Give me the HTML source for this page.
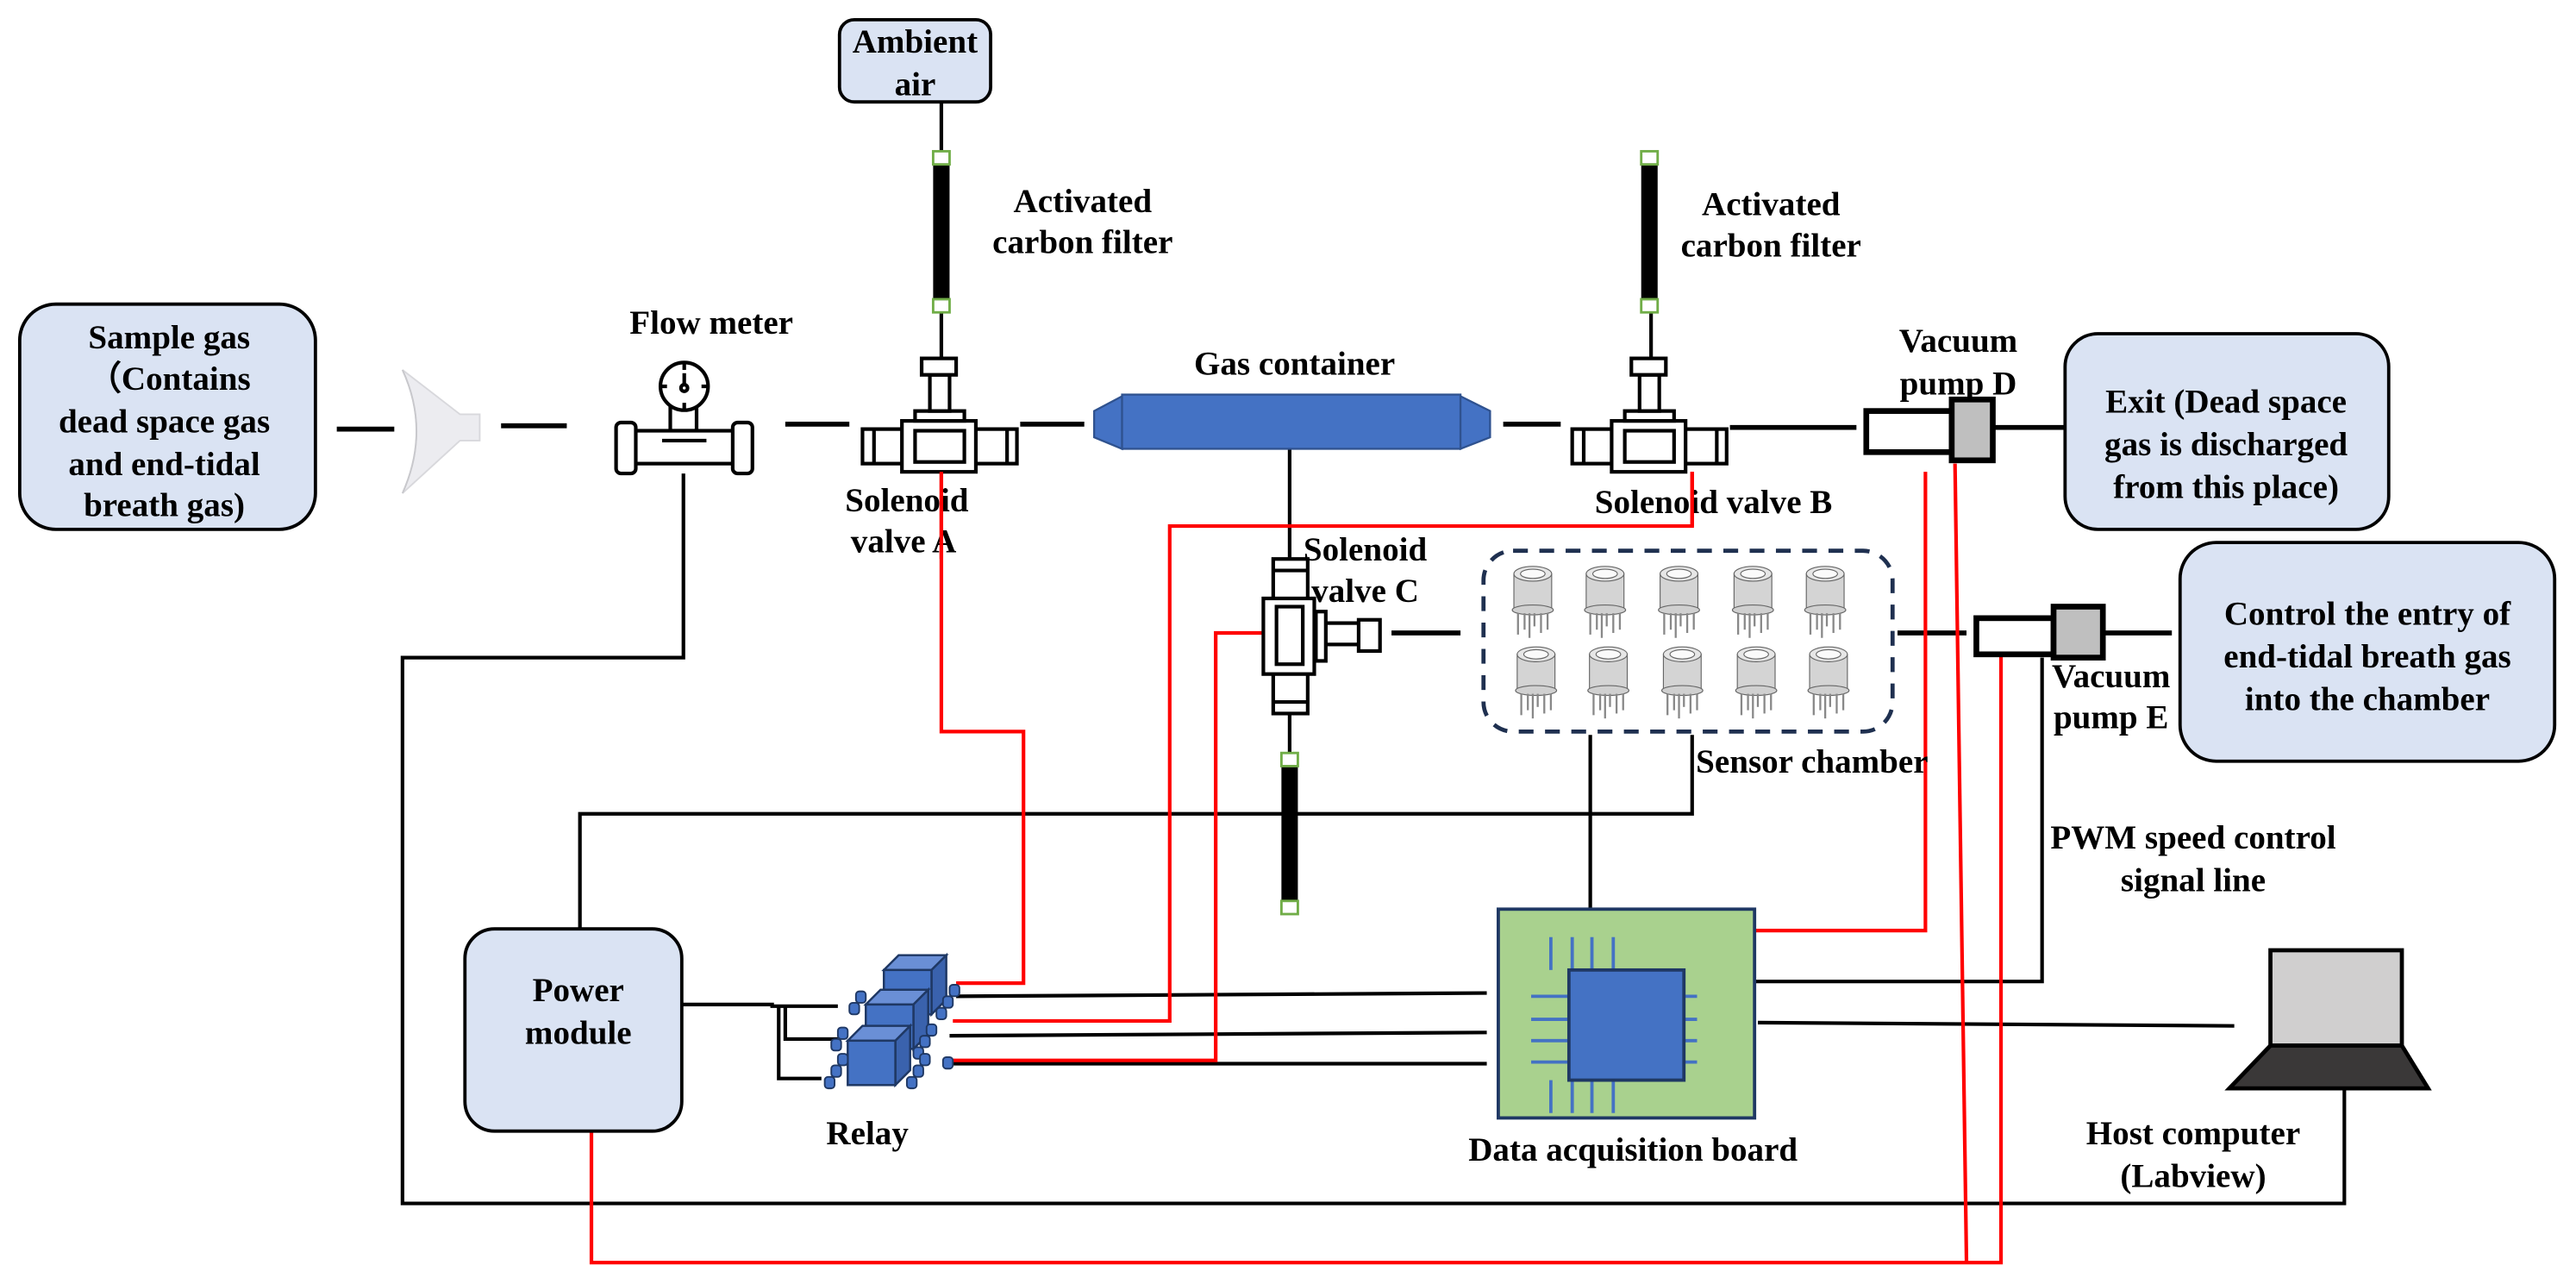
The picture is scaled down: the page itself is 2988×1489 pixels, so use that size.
<!DOCTYPE html>
<html><head><meta charset="utf-8"><style>
html,body{margin:0;padding:0;background:#fff;}
svg{display:block;}
text{font-family:"Liberation Serif",serif;font-weight:bold;font-size:20.5px;fill:#000;}
</style></head><body>
<svg width="2988" height="1489" viewBox="0 0 1568 781" preserveAspectRatio="none" xmlns="http://www.w3.org/2000/svg">
<defs>
<g id="valve" fill="#fff" stroke="#000" stroke-width="2.2">
  <rect x="-47" y="-10" width="94" height="21"/>
  <line x1="-40" y1="-10" x2="-40" y2="11"/><line x1="41" y1="-10" x2="41" y2="11"/>
  <rect x="-23" y="-15" width="45" height="31"/>
  <rect x="-15" y="-9" width="30" height="19"/>
  <rect x="-15" y="-21" width="30" height="6"/>
  <rect x="-6" y="-43" width="12" height="22"/>
  <rect x="-11" y="-53" width="21" height="10"/>
</g>
<g id="sensor">
  <path d="M-11.5,4 L-11.5,26 L11.5,26 L11.5,4 Z" fill="#d4d4d4" stroke="#666" stroke-width="0.6"/>
  <ellipse cx="0" cy="4" rx="11.5" ry="4.5" fill="#e6e6e6" stroke="#666" stroke-width="0.6"/>
  <ellipse cx="0" cy="4" rx="7.5" ry="2.8" fill="#fafafa" stroke="#666" stroke-width="0.6"/>
  <ellipse cx="0" cy="26" rx="12.5" ry="3" fill="#d0d0d0" stroke="#666" stroke-width="0.6"/>
  <g stroke="#888" stroke-width="1.2"><line x1="-9" y1="28" x2="-9" y2="41"/><line x1="-5" y1="28" x2="-5" y2="38"/><line x1="-2" y1="28" x2="-2" y2="43"/><line x1="1" y1="28" x2="1" y2="36"/><line x1="5" y1="28" x2="5" y2="40"/><line x1="9" y1="28" x2="9" y2="38"/></g>
</g>
<g id="filter">
  <rect x="-5" y="0" width="10" height="98" fill="#000"/>
  <rect x="-5" y="0" width="10" height="8" fill="#fff" stroke="#70AD47" stroke-width="1.5"/>
  <rect x="-5" y="90" width="10" height="8" fill="#fff" stroke="#70AD47" stroke-width="1.5"/>
</g>
<g id="cube">
  <polygon points="0,0 9,-9 38,-9 29,0" fill="#6a8fd6" stroke="#1f3864" stroke-width="1.3"/>
  <polygon points="29,0 38,-9 38,18 29,27" fill="#3a62ad" stroke="#1f3864" stroke-width="1.3"/>
  <rect x="0" y="0" width="29" height="27" fill="#4472C4" stroke="#1f3864" stroke-width="1.3"/>
</g>
<g id="pin"><rect x="-3" y="-3" width="6" height="7" rx="2" fill="#4472C4" stroke="#1f3864" stroke-width="1"/></g>
</defs>

<g stroke="#000" stroke-width="2.2" fill="none">
  <polyline points="416,288 416,400 245,400 245,732 1427,732 1427,662"/>
  <polyline points="353,565 353,495 1030,495 1030,447"/>
  <line x1="968" y1="447" x2="968" y2="553"/>
  <polyline points="415,611 470,611 470,612 510,612"/>
  <polyline points="478,612 478,632 510,632"/>
  <polyline points="474,612 474,656 500,656"/>
  <line x1="582" y1="606" x2="905" y2="604"/>
  <line x1="578" y1="630" x2="905" y2="628"/>
  <line x1="575" y1="647" x2="905" y2="647"/>
  <polyline points="1068,597 1243,597 1243,400"/>
  <line x1="1070" y1="622" x2="1360" y2="624"/>
  <line x1="573" y1="62" x2="573" y2="92"/>
  <line x1="573" y1="190" x2="573" y2="218"/>
  <line x1="1005" y1="190" x2="1005" y2="218"/>
  <line x1="785" y1="272" x2="785" y2="339"/>
  <line x1="785" y1="434" x2="785" y2="458"/>
</g>
<g stroke="#000" stroke-width="3" fill="none">
  <line x1="205" y1="261" x2="240" y2="261"/>
  <line x1="305" y1="259" x2="345" y2="259"/>
  <line x1="478" y1="258" x2="517" y2="258"/>
  <line x1="621" y1="258" x2="660" y2="258"/>
  <line x1="915" y1="258" x2="950" y2="258"/>
  <line x1="1053" y1="260" x2="1130" y2="260"/>
  <line x1="1213" y1="260" x2="1258" y2="260"/>
  <line x1="847" y1="385" x2="889" y2="385"/>
  <line x1="1155" y1="385" x2="1197" y2="385"/>
  <line x1="1280" y1="385" x2="1322" y2="385"/>
</g>

<g stroke="#ff0000" stroke-width="2.2" fill="none">
  <polyline points="573,287 573,445 623,445 623,598 582,598"/>
  <polyline points="1030,287 1030,320 712,320 712,621 580,621"/>
  <polyline points="769,385 740,385 740,645 575,645"/>
  <polyline points="360,688 360,768 1218,768 1218,398"/>
  <polyline points="1197,768 1190,282"/>
  <polyline points="1068,566 1172,566 1172,287"/>
</g>

<g fill="#dae3f3" stroke="#000" stroke-width="2">
  <rect x="12" y="185" width="180" height="137" rx="22"/>
  <rect x="511" y="12" width="92" height="50" rx="9"/>
  <rect x="1257" y="203" width="197" height="119" rx="20"/>
  <rect x="1327" y="330" width="228" height="133" rx="22"/>
  <rect x="283" y="565" width="132" height="123" rx="18"/>
</g>
<text x="103" y="212" text-anchor="middle">Sample gas</text>
<text x="103" y="237" text-anchor="middle">（Contains</text>
<text x="100" y="263" text-anchor="middle">dead space gas</text>
<text x="100" y="289" text-anchor="middle">and end-tidal</text>
<text x="100" y="314" text-anchor="middle">breath gas)</text>
<text x="557" y="32" text-anchor="middle">Ambient</text>
<text x="557" y="58" text-anchor="middle">air</text>
<text x="1355" y="251" text-anchor="middle">Exit (Dead space</text>
<text x="1355" y="277" text-anchor="middle">gas is discharged</text>
<text x="1355" y="303" text-anchor="middle">from this place)</text>
<text x="1441" y="380" text-anchor="middle">Control the entry of</text>
<text x="1441" y="406" text-anchor="middle">end-tidal breath gas</text>
<text x="1441" y="432" text-anchor="middle">into the chamber</text>
<text x="352" y="609" text-anchor="middle">Power</text>
<text x="352" y="635" text-anchor="middle">module</text>

<path d="M245,225 Q262,262 245,300 L280,268 L292,268 L292,252 L280,252 Z" fill="#ececf0" stroke="#d8d8dc" stroke-width="1"/>
<path d="M245,225 Q262,262 245,300" fill="none" stroke="#c8c8cc" stroke-width="1"/>

<g fill="#fff" stroke="#000" stroke-width="2.2">
  <rect x="408" y="246" width="16" height="16"/>
  <rect x="381" y="262" width="72" height="20"/>
  <rect x="375" y="257" width="12" height="31" rx="3"/>
  <rect x="446" y="257" width="12" height="31" rx="3"/>
  <circle cx="416.5" cy="235" r="14.5"/>
  <line x1="403" y1="268" x2="430" y2="268"/>
  <line x1="416.5" y1="221" x2="416.5" y2="225"/><line x1="416.5" y1="245" x2="416.5" y2="249"/>
  <line x1="402" y1="235" x2="406" y2="235"/><line x1="427" y1="235" x2="431" y2="235"/>
  <line x1="416.5" y1="227" x2="416.5" y2="234"/>
  <circle cx="416.5" cy="236" r="2"/>
</g>
<text x="433" y="203" text-anchor="middle">Flow meter</text>

<use href="#filter" x="573" y="92"/>
<use href="#filter" x="1004" y="92"/>
<use href="#filter" x="785" y="458"/>
<text x="659" y="129" text-anchor="middle">Activated</text>
<text x="659" y="154" text-anchor="middle">carbon filter</text>
<text x="1078" y="131" text-anchor="middle">Activated</text>
<text x="1078" y="156" text-anchor="middle">carbon filter</text>

<use href="#valve" x="572" y="271"/>
<use href="#valve" x="1004" y="271"/>
<text x="552" y="311" text-anchor="middle">Solenoid</text>
<text x="550" y="336" text-anchor="middle">valve A</text>
<text x="1043" y="312" text-anchor="middle">Solenoid valve B</text>
<line x1="573" y1="287" x2="573" y2="340" stroke="#ff0000" stroke-width="2.2"/>
<line x1="1030" y1="287" x2="1030" y2="320" stroke="#ff0000" stroke-width="2.2"/>

<g fill="#fff" stroke="#000" stroke-width="2.2">
  <rect x="775" y="340" width="21" height="94"/>
  <line x1="775" y1="347" x2="796" y2="347"/><line x1="775" y1="427" x2="796" y2="427"/>
  <rect x="807" y="379" width="21" height="13"/>
  <rect x="801" y="372" width="6" height="30"/>
  <rect x="827" y="377" width="13" height="19"/>
  <rect x="769" y="364" width="31" height="46"/>
  <rect x="777" y="369" width="16" height="35"/>
</g>
<text x="831" y="341" text-anchor="middle">Solenoid</text>
<text x="831" y="366" text-anchor="middle">valve C</text>

<polygon points="666,250 683,241 683,273 666,266" fill="#4472C4" stroke="#2f528f" stroke-width="1.2"/>
<rect x="683" y="240" width="206" height="33" fill="#4472C4" stroke="#2f528f" stroke-width="1.2"/>
<polygon points="889,241 907,250 907,266 889,273" fill="#4472C4" stroke="#2f528f" stroke-width="1.2"/>
<text x="788" y="228" text-anchor="middle">Gas container</text>

<rect x="1136" y="250" width="52" height="25" fill="#fff" stroke="#000" stroke-width="3.5"/>
<rect x="1188" y="243" width="25" height="37" fill="#bfbfbf" stroke="#000" stroke-width="3.5"/>
<text x="1192" y="214" text-anchor="middle">Vacuum</text>
<text x="1192" y="240" text-anchor="middle">pump D</text>
<rect x="1203" y="376" width="47" height="22" fill="#fff" stroke="#000" stroke-width="3.5"/>
<rect x="1250" y="369" width="30" height="31" fill="#bfbfbf" stroke="#000" stroke-width="3.5"/>
<text x="1285" y="418" text-anchor="middle">Vacuum</text>
<text x="1285" y="443" text-anchor="middle">pump E</text>

<rect x="903" y="335" width="249" height="110" rx="18" fill="none" stroke="#1f3050" stroke-width="2.5" stroke-dasharray="9,7"/>
<use href="#sensor" x="933" y="345"/><use href="#sensor" x="977" y="345"/><use href="#sensor" x="1022" y="345"/><use href="#sensor" x="1067" y="345"/><use href="#sensor" x="1111" y="345"/>
<use href="#sensor" x="935" y="394"/><use href="#sensor" x="979" y="394"/><use href="#sensor" x="1024" y="394"/><use href="#sensor" x="1069" y="394"/><use href="#sensor" x="1113" y="394"/>
<text x="1103" y="470" text-anchor="middle">Sensor chamber</text>

<text x="1335" y="516" text-anchor="middle">PWM speed control</text>
<text x="1335" y="542" text-anchor="middle">signal line</text>

<use href="#cube" x="538" y="590"/>
<use href="#pin" x="581" y="602"/><use href="#pin" x="577" y="609"/><use href="#pin" x="573" y="616"/>
<use href="#cube" x="527" y="611"/>
<use href="#pin" x="567" y="626"/><use href="#pin" x="563" y="633"/><use href="#pin" x="559" y="640"/>
<use href="#pin" x="524" y="606"/><use href="#pin" x="520" y="613"/>
<use href="#cube" x="516" y="633"/>
<use href="#pin" x="577" y="646"/>
<use href="#pin" x="563" y="644"/><use href="#pin" x="559" y="651"/><use href="#pin" x="555" y="658"/>
<use href="#pin" x="513" y="628"/><use href="#pin" x="509" y="635"/>
<use href="#pin" x="513" y="644"/><use href="#pin" x="509" y="651"/><use href="#pin" x="505" y="658"/>
<text x="528" y="696" text-anchor="middle">Relay</text>

<rect x="912" y="553" width="156" height="127" fill="#a9d18e" stroke="#1f3864" stroke-width="2"/>
<g stroke="#4472C4" stroke-width="2">
  <line x1="944" y1="590" x2="944" y2="570"/><line x1="957" y1="590" x2="957" y2="570"/><line x1="969" y1="590" x2="969" y2="570"/><line x1="982" y1="590" x2="982" y2="570"/>
  <line x1="944" y1="657" x2="944" y2="677"/><line x1="957" y1="657" x2="957" y2="677"/><line x1="969" y1="657" x2="969" y2="677"/><line x1="982" y1="657" x2="982" y2="677"/>
  <line x1="932" y1="606" x2="955" y2="606"/><line x1="932" y1="620" x2="955" y2="620"/><line x1="932" y1="633" x2="955" y2="633"/><line x1="932" y1="646" x2="955" y2="646"/>
  <line x1="1010" y1="606" x2="1033" y2="606"/><line x1="1010" y1="620" x2="1033" y2="620"/><line x1="1010" y1="633" x2="1033" y2="633"/><line x1="1010" y1="646" x2="1033" y2="646"/>
</g>
<rect x="955" y="590" width="70" height="67" fill="#4472C4" stroke="#1f3864" stroke-width="2"/>
<text x="994" y="706" text-anchor="middle">Data acquisition board</text>

<rect x="1382" y="578" width="80" height="58" fill="#d0cfcf" stroke="#000" stroke-width="2.5"/>
<polygon points="1382,636 1462,636 1478,662 1357,662" fill="#3a3838" stroke="#000" stroke-width="2.5"/>
<text x="1335" y="696" text-anchor="middle">Host computer</text>
<text x="1335" y="722" text-anchor="middle">(Labview)</text>
</svg>
</body></html>
